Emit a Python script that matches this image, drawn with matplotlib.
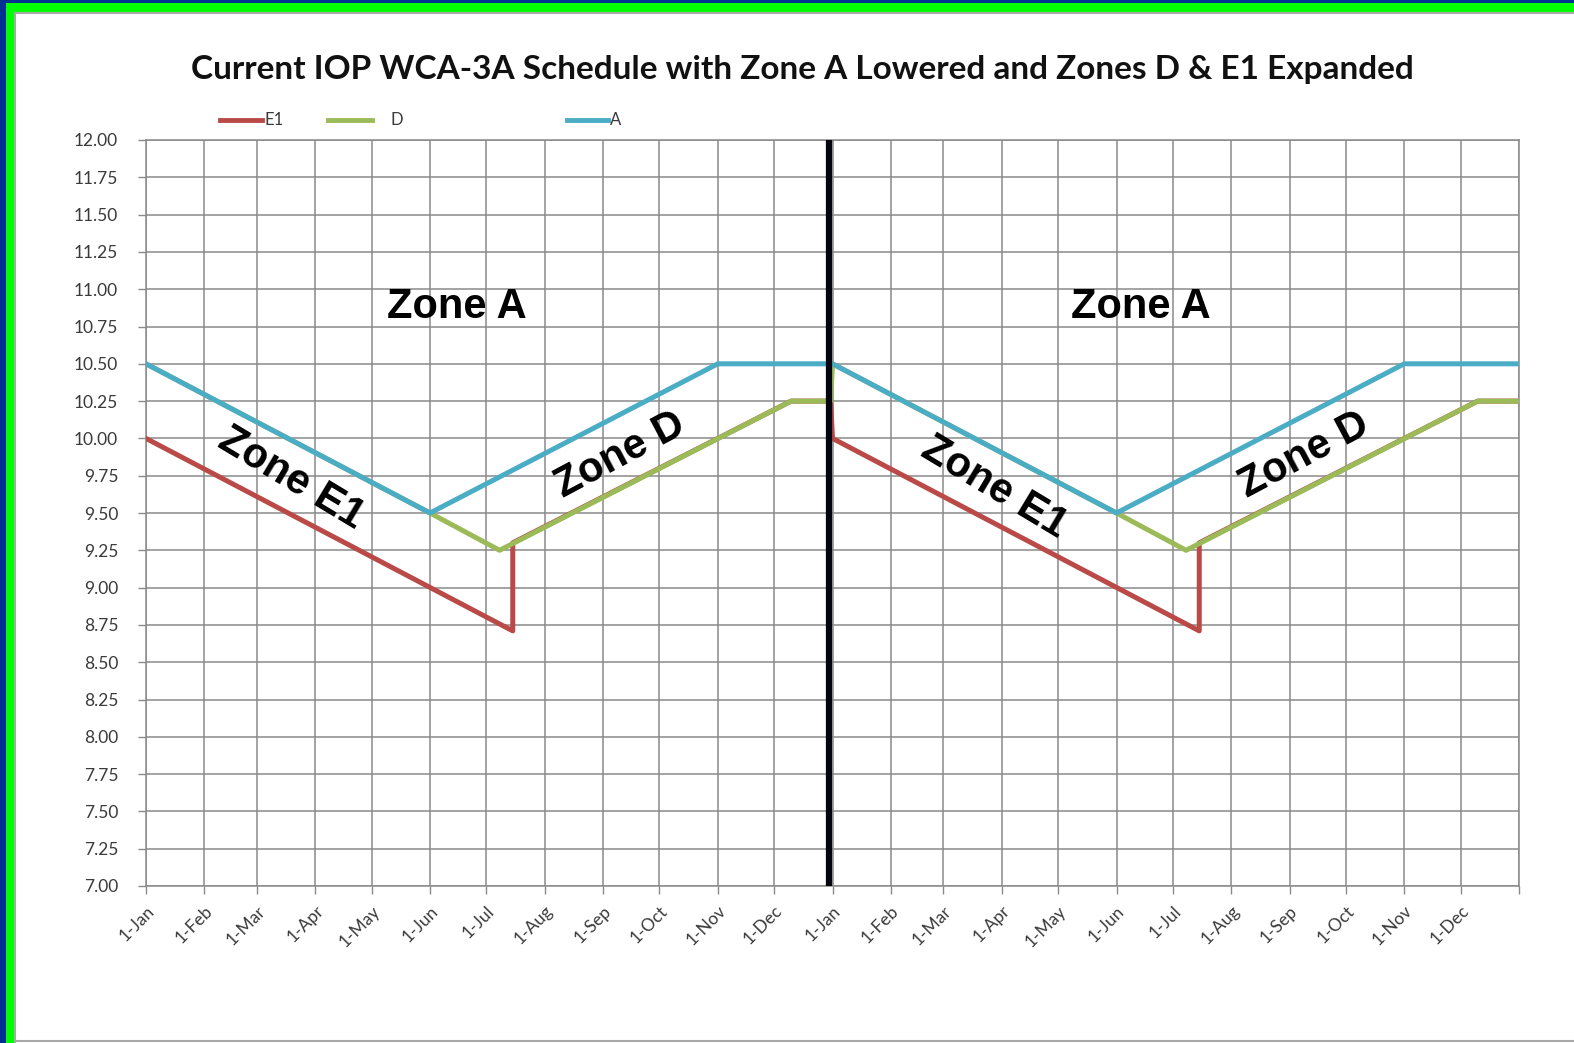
import matplotlib
matplotlib.use("Agg")
import matplotlib.pyplot as plt
from matplotlib.patches import Rectangle
from matplotlib.lines import Line2D

# data: x in days from 1-Jan of year 1 (two years shown), y = stage (ft)
a_days = [0, 151, 304, 365, 516, 669, 730]
a_vals = [10.50, 9.50, 10.50, 10.50, 9.50, 10.50, 10.50]

d_days = [0, 151, 188, 343, 364, 365, 516, 553, 708, 730]
d_vals = [10.50, 9.50, 9.25, 10.25, 10.25, 10.50, 9.50, 9.25, 10.25, 10.25]

e1_days = [0, 195, 195, 343, 364, 365, 560, 560, 708, 730]
e1_vals = [10.00, 8.71, 9.30, 10.25, 10.25, 10.00, 8.71, 9.30, 10.25, 10.25]

tick_days = [0, 31, 59, 90, 120, 151, 181, 212, 243, 273, 304, 334,
             365, 396, 424, 455, 485, 516, 546, 577, 608, 638, 669, 699, 730]
months = ['1-Jan', '1-Feb', '1-Mar', '1-Apr', '1-May', '1-Jun', '1-Jul',
          '1-Aug', '1-Sep', '1-Oct', '1-Nov', '1-Dec']
tick_labels = months + months + ['']
y_ticks = [7.00 + 0.25 * i for i in range(21)]
year_split = 363

W, H = 1574, 1043
fig = plt.figure(figsize=(W / 100, H / 100), dpi=100)
fig.patch.set_facecolor('#003090')

# frame: green band + white panel
fig.add_artist(Rectangle((6 / W, 0), 1 - 6 / W, 1 - 3 / H, transform=fig.transFigure,
                         facecolor='#00ff00', edgecolor='none', zorder=-3))
fig.add_artist(Rectangle((15 / W, 0), 1 - 15 / W, 1 - 12 / H, transform=fig.transFigure,
                         facecolor='white', edgecolor='none', zorder=-2))
fig.add_artist(Line2D([15 / W, 15 / W, 1], [0, 1 - 13 / H, 1 - 13 / H],
                      color='#a8a8a8', lw=1.5, transform=fig.transFigure, zorder=-1))
fig.add_artist(Line2D([15 / W, 1], [2 / H, 2 / H],
                      color='#a8a8a8', lw=1.5, transform=fig.transFigure, zorder=-1))

ax = fig.add_axes([146 / W, 1 - 886 / H, (1519 - 146) / W, (886 - 140) / H])
ax.set_facecolor('white')

grid_c = '#8a8a8a'
txt_c = '#3a3a3a'

ax.plot(e1_days, e1_vals, color='#b94a48', lw=3.6, zorder=3)
ax.plot(d_days, d_vals, color='#9bbb59', lw=3.6, zorder=4)
ax.plot(a_days, a_vals, color='#4bacc6', lw=3.6, zorder=5)
ax.axvline(year_split, color='#05050f', lw=4.5, zorder=6)

ax.set_xlim(0, 730)
ax.set_ylim(7, 12)
ax.set_xticks(tick_days)
ax.set_xticklabels(tick_labels, rotation=45, ha='right', rotation_mode='anchor',
                   fontsize=12.5, color=txt_c, family='Lato')
ax.set_yticks(y_ticks)
ax.set_yticklabels(['%.2f' % v for v in y_ticks], fontsize=12.5, color=txt_c,
                   family='Lato')
ax.tick_params(axis='both', length=6, color=grid_c, width=1)
ax.tick_params(axis='y', pad=14)
ax.tick_params(axis='x', pad=6)
ax.grid(True, color=grid_c, lw=1.1)
ax.set_axisbelow(True)
for s in ax.spines.values():
    s.set_color(grid_c)
    s.set_linewidth(1.1)

fig.text(802 / W, 1 - 70 / H,
         'Current IOP WCA-3A Schedule with Zone A Lowered and Zones D & E1 Expanded',
         ha='center', va='center', fontsize=24, fontweight='bold', family='Lato',
         color='#111111')

# legend
leg_y = 1 - 120 / H
for x0, x1, lx, lab, c in [(220, 262, 264, 'E1', '#b94a48'),
                            (328, 372, 391, 'D', '#9bbb59'),
                            (567, 608, 610, 'A', '#4bacc6')]:
    fig.add_artist(Line2D([x0 / W, x1 / W], [leg_y, leg_y], color=c, lw=3.5,
                          transform=fig.transFigure))
    fig.text(lx / W, leg_y, lab, ha='left', va='center', fontsize=12,
             color=txt_c, family='Lato')

zone_kw = dict(ha='center', va='center', fontsize=30, fontweight='bold',
               family='Liberation Sans', color='black', rotation_mode='anchor', zorder=7)
ax.text(165, 10.88, 'Zone A', **zone_kw)
ax.text(529, 10.88, 'Zone A', **zone_kw)
ax.text(77, 9.73, 'Zone E1', rotation=-31, **zone_kw)
ax.text(451, 9.67, 'Zone E1', rotation=-31, **zone_kw)
ax.text(252, 9.89, 'Zone D', rotation=28, **zone_kw)
ax.text(616, 9.89, 'Zone D', rotation=28, **zone_kw)

fig.savefig('out.png', dpi=100, facecolor=fig.get_facecolor())
